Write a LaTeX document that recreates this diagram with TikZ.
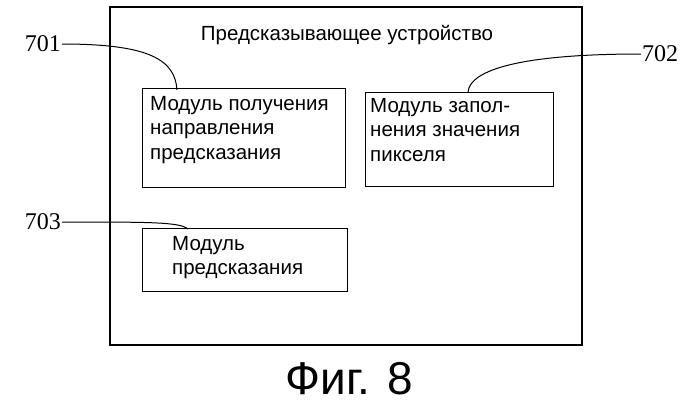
\documentclass[tikz,border=0pt]{standalone}
\usepackage{fontspec}
\setmainfont{Liberation Sans}
\newfontfamily\numfont{Liberation Serif}
\begin{document}
\begin{tikzpicture}[x=1pt,y=-1pt,
  txt/.style={font=\fontsize{20.5}{24.5}\selectfont,align=left,anchor=north west,inner sep=0pt},
  num/.style={font=\numfont\fontsize{24}{26}\selectfont,inner sep=1pt},
  lead/.style={line width=1pt}]
\useasboundingbox (0,0) rectangle (699,407);
\draw[line width=1.5pt] (110,7) rectangle (582,345);
\node[font=\fontsize{20.5}{24}\selectfont] (title) at (347,35) {Предсказывающее устройство};
\draw[line width=1pt] (142,88) rectangle (345,187);
\node[txt] (b1) at (150,96) {Модуль получения\\направления\\предсказания};
\draw[line width=1pt] (365,92) rectangle (553,186);
\node[txt] (b2) at (370,98) {Модуль запол-\\нения значения\\пикселя};
\draw[line width=1pt] (142,228) rectangle (347,291);
\node[txt] (b3) at (172,236) {Модуль\\предсказания};
\node[num,anchor=east] (n1) at (62,44) {701};
\node[num,anchor=west] (n2) at (641,54) {702};
\node[num,anchor=east] (n3) at (62,222) {703};
\coordinate (e1) at (177,90);
\coordinate (e2) at (468,92);
\coordinate (e3) at (188,229);
\draw[lead] (n1.east) .. controls (150,44) and (175,60) .. (e1);
\draw[lead] (n2.west) .. controls (520,54) and (470,70) .. (e2);
\draw[lead] (n3.east) .. controls (150,222) and (180,222) .. (e3);
\node[font=\fontsize{46}{50}\selectfont] (cap) at (349,379) {Фиг. 8};
\end{tikzpicture}
\end{document}
